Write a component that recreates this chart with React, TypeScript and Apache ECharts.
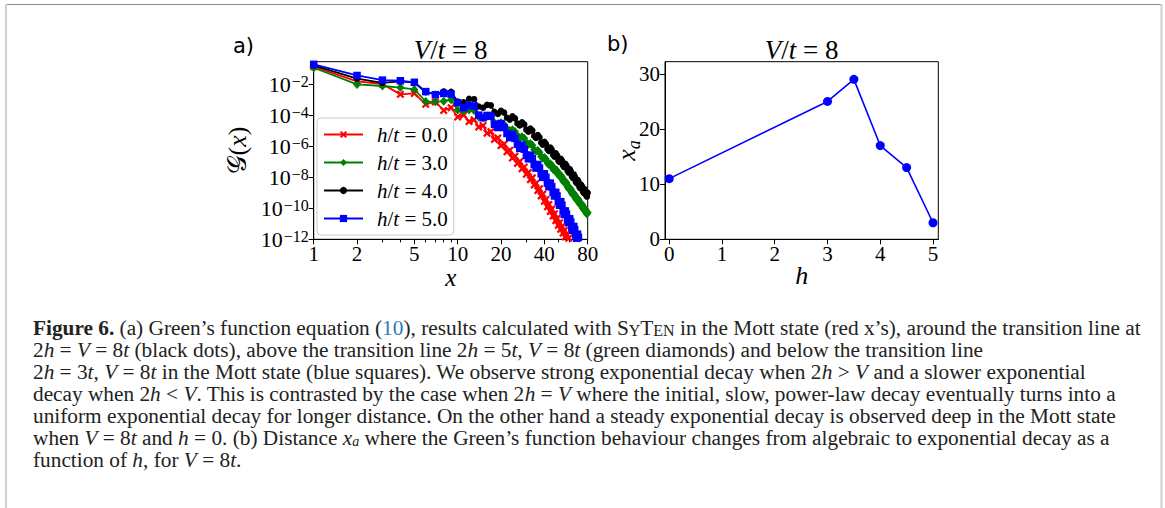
import React, { useEffect, useRef } from "react";
import * as echarts from "echarts";

const W = 1165;
const H = 508;

// ---------- data (panel a): log10 G(x) at x = 1, 2, 3, ... ----------
const legendNames = ["h/t = 0.0", "h/t = 3.0", "h/t = 4.0", "h/t = 5.0"];
const xTickLabels = [1, 2, 5, 10, 20, 40, 80];
const xMinorTicks = [3, 4, 6, 7, 8, 9, 30, 50, 60, 70];
const yTickExponents = [-12, -10, -8, -6, -4, -2];

const redLog10G = [
  -0.85, -1.8, -1.97, -2.64, -2.58, -3.28, -3.13, -3.68, -3.5, -4.1,
  -3.98, -4.4, -4.28, -4.75, -4.65, -5.15, -5.05, -5.55, -5.45, -5.95,
  -5.85, -6.35, -6.25, -6.75, -6.63, -7.1, -6.98, -7.45, -7.33, -7.8,
  -7.68, -8.15, -8.03, -8.5, -8.38, -8.85, -8.73, -9.2, -9.08, -9.55,
  -9.43, -9.9, -9.75, -10.2, -10.05, -10.5, -10.35, -10.8, -10.65, -11.1,
  -10.93, -11.35, -11.18, -11.6, -11.43, -11.85, -11.68, -12.1, -11.93, -12.35,
  -12.18, -12.6,
];
const greenLog10G = [
  -0.92, -2.0, -2.1, -2.2, -2.32, -3.1, -3.12, -3.08, -2.98, -3.65,
  -3.72, -3.65, -3.68, -4.1, -4.15, -4.05, -4.08, -4.48, -4.55, -4.47,
  -4.58, -4.86, -4.97, -4.92, -5.03, -5.31, -5.42, -5.37, -5.48, -5.76,
  -5.87, -5.82, -5.93, -6.21, -6.32, -6.27, -6.38, -6.66, -6.77, -6.72,
  -6.82, -7.08, -7.18, -7.12, -7.22, -7.47, -7.56, -7.49, -7.58, -7.83,
  -7.93, -7.87, -7.97, -8.23, -8.33, -8.27, -8.37, -8.63, -8.73, -8.67,
  -8.76, -9.01, -9.1, -9.03, -9.12, -9.36, -9.44, -9.36, -9.44, -9.68,
  -9.76, -9.68, -9.76, -10.0, -10.08, -9.99, -10.06, -10.29, -10.36, -10.27,
];
const blackLog10G = [
  -0.77, -1.62, -1.9, -1.8, -1.88, -2.5, -2.62, -2.45, -2.48, -3.1,
  -3.15, -2.92, -2.95, -3.42, -3.5, -3.32, -3.35, -3.77, -3.9, -3.7,
  -3.82, -4.15, -4.27, -4.06, -4.19, -4.52, -4.65, -4.45, -4.58, -4.92,
  -5.05, -4.85, -4.98, -5.33, -5.46, -5.27, -5.41, -5.75, -5.89, -5.7,
  -5.83, -6.16, -6.29, -6.08, -6.21, -6.54, -6.66, -6.45, -6.57, -6.9,
  -7.01, -6.8, -6.91, -7.24, -7.35, -7.13, -7.25, -7.57, -7.69, -7.47,
  -7.59, -7.91, -8.03, -7.81, -7.93, -8.26, -8.37, -8.16, -8.27, -8.6,
  -8.7, -8.48, -8.58, -8.9, -9.0, -8.76, -8.85, -9.15, -9.24, -9.0,
];
const blueLog10G = [
  -0.7, -1.42, -1.72, -1.76, -1.86, -2.46, -2.66, -2.58, -2.62, -3.18,
  -3.5, -3.34, -3.4, -3.98, -4.15, -4.0, -4.05, -4.57, -4.78, -4.52,
  -4.78, -5.17, -5.43, -5.22, -5.48, -5.87, -6.13, -5.92, -6.18, -6.57,
  -6.8, -6.57, -6.8, -7.17, -7.4, -7.17, -7.4, -7.77, -8.0, -7.77,
  -8.0, -8.37, -8.6, -8.37, -8.6, -8.97, -9.2, -8.97, -9.2, -9.57,
  -9.8, -9.57, -9.8, -10.17, -10.4, -10.17, -10.38, -10.72, -10.93, -10.67,
  -10.88, -11.22, -11.43, -11.17, -11.38, -11.72, -11.93, -11.67, -11.88, -12.22,
  -12.43, -12.17,
];

// ---------- data (panel b) ----------
const hValues = [0, 3, 3.5, 4, 4.5, 5];
const xaValues = [11, 25, 29, 17, 13, 3];
const hTicks = [0, 1, 2, 3, 4, 5];
const xaTicks = [0, 10, 20, 30];

const SERIF = '"Liberation Serif", "Times New Roman", serif';
const SANS = '"DejaVu Sans", sans-serif';
const seriesColors = ["#ff0000", "#008000", "#000000", "#0000ff"];
const xMarkPath =
  "path://M0,2 L2,0 L5,3 L8,0 L10,2 L7,5 L10,8 L8,10 L5,7 L2,10 L0,8 L3,5 Z";
const seriesSymbols = [xMarkPath, "diamond", "circle", "rect"];
const seriesSymbolSizes: any[] = [8, [8, 9], 6.5, 7.5];
const seriesLog = [redLog10G, greenLog10G, blackLog10G, blueLog10G];

// ---------- caption ----------
const captionLines: [string, string][][] = [
  [["b", "Figure 6."], ["r", " (a) Green’s function equation ("], ["c", "10"], ["r", "), results calculated with S"], ["sc", "Y"], ["r", "T"], ["sc", "EN"], ["r", " in the Mott state (red x’s), around the transition line at"]],
  [["r", "2"], ["i", "h"], ["r", " = "], ["i", "V"], ["r", " = 8"], ["i", "t"], ["r", " (black dots), above the transition line 2"], ["i", "h"], ["r", " = 5"], ["i", "t"], ["r", ", "], ["i", "V"], ["r", " = 8"], ["i", "t"], ["r", " (green diamonds) and below the transition line"]],
  [["r", "2"], ["i", "h"], ["r", " = 3"], ["i", "t"], ["r", ", "], ["i", "V"], ["r", " = 8"], ["i", "t"], ["r", " in the Mott state (blue squares). We observe strong exponential decay when 2"], ["i", "h"], ["r", " > "], ["i", "V"], ["r", " and a slower exponential"]],
  [["r", "decay when 2"], ["i", "h"], ["r", " < "], ["i", "V"], ["r", ". This is contrasted by the case when 2"], ["i", "h"], ["r", " = "], ["i", "V"], ["r", " where the initial, slow, power-law decay eventually turns into a"]],
  [["r", "uniform exponential decay for longer distance. On the other hand a steady exponential decay is observed deep in the Mott state"]],
  [["r", "when "], ["i", "V"], ["r", " = 8"], ["i", "t"], ["r", " and "], ["i", "h"], ["r", " = 0. (b) Distance "], ["i", "x"], ["sub", "a"], ["r", " where the Green’s function behaviour changes from algebraic to exponential decay as a"]],
  [["r", "function of "], ["i", "h"], ["r", ", for "], ["i", "V"], ["r", " = 8"], ["i", "t"], ["r", "."]],
];

const CAP = 21.3;
const capRich = {
  r: { fontFamily: SERIF, fontSize: CAP, fill: "#222", verticalAlign: "bottom", lineHeight: 22 },
  i: { fontFamily: SERIF, fontSize: CAP, fontStyle: "italic", fill: "#222", verticalAlign: "bottom", lineHeight: 22 },
  b: { fontFamily: SERIF, fontSize: CAP, fontWeight: "bold", fill: "#222", verticalAlign: "bottom", lineHeight: 22 },
  c: { fontFamily: SERIF, fontSize: CAP, fill: "#2b7bb9", verticalAlign: "bottom", lineHeight: 22 },
  sc: { fontFamily: SERIF, fontSize: 16, fill: "#222", verticalAlign: "bottom", lineHeight: 20 },
  sub: { fontFamily: SERIF, fontSize: 14, fontStyle: "italic", fill: "#222", verticalAlign: "bottom", lineHeight: 17 },
};

function rich(segs: [string, string][]) {
  return segs.map(([k, t]) => `{${k}|${t}}`).join("");
}

const mathRich = (size: number, lh: number, color = "#000") => ({
  r: { fontFamily: SERIF, fontSize: size, lineHeight: lh, fill: color, color },
  i: { fontFamily: SERIF, fontSize: size, lineHeight: lh, fontStyle: "italic", fill: color, color },
  g: { fontFamily: '"DejaVu Serif", "DejaVu Sans", serif', fontSize: size, lineHeight: lh, fill: color, color },
});

function buildOption(): any {
  const logMax = Math.log10(80);
  const tickFont = { fontFamily: SERIF, fontSize: 21, lineHeight: 18, color: "#000" };
  const series: any[] = seriesLog.map((arr, k) => ({
    name: legendNames[k],
    type: "line",
    xAxisIndex: 0,
    yAxisIndex: 0,
    data: arr.map((e, i) => [Math.log10(i + 1), e]),
    symbol: seriesSymbols[k],
    symbolSize: seriesSymbolSizes[k],
    showAllSymbol: true,
    itemStyle: { color: seriesColors[k] },
    lineStyle: { color: seriesColors[k], width: 1.8 },
    clip: true,
    z: 2 + k,
  }));
  series.push({
    type: "line",
    xAxisIndex: 2,
    yAxisIndex: 1,
    data: hValues.map((h, i) => [h, xaValues[i]]),
    symbol: "circle",
    symbolSize: 9,
    itemStyle: { color: "#0000ff" },
    lineStyle: { color: "#0000ff", width: 1.6 },
  });

  const capGraphics = captionLines.map((segs, i) => ({
    type: "text",
    x: 33,
    y: 327 + i * 22,
    style: { text: rich(segs), rich: capRich, align: "left", textAlign: "left", verticalAlign: "middle", textVerticalAlign: "middle" },
  }));

  const txt = (x: number, y: number, text: string, richDef: any, extra: any = {}) => ({
    type: "text",
    x,
    y,
    ...extra,
    style: { text, rich: richDef, align: "center", textAlign: "center", verticalAlign: "middle", textVerticalAlign: "middle" },
  });

  return {
    animation: false,
    backgroundColor: "#ffffff",
    grid: [
      { left: 313.7, top: 61.7, width: 274, height: 177.6, show: true, borderColor: "#000", borderWidth: 1, backgroundColor: "transparent", outerBoundsMode: "none" },
      { left: 665, top: 61.7, width: 273.3, height: 177.6, show: true, borderColor: "#000", borderWidth: 1, backgroundColor: "transparent", outerBoundsMode: "none" },
    ],
    xAxis: [
      {
        gridIndex: 0, type: "value", min: 0, max: logMax, position: "bottom",
        axisLine: { show: true, onZero: false, lineStyle: { color: "#000", width: 1 } },
        axisTick: { show: true, customValues: xTickLabels.map((v) => Math.log10(v)), length: 5, lineStyle: { color: "#000" } },
        axisLabel: { show: true, customValues: xTickLabels.map((v) => Math.log10(v)), formatter: (v: number) => String(Math.round(Math.pow(10, v))), margin: 6, ...tickFont },
        splitLine: { show: false },
      },
      {
        gridIndex: 0, type: "value", min: 0, max: logMax, position: "bottom",
        axisLine: { show: false, onZero: false },
        axisTick: { show: true, customValues: xMinorTicks.map((v) => Math.log10(v)), length: 3, lineStyle: { color: "#000" } },
        axisLabel: { show: false },
        splitLine: { show: false },
      },
      {
        gridIndex: 1, type: "value", min: -0.08, max: 5.1, position: "bottom",
        axisLine: { show: true, onZero: false, lineStyle: { color: "#000", width: 1 } },
        axisTick: { show: true, customValues: hTicks, length: 5, lineStyle: { color: "#000" } },
        axisLabel: { show: true, customValues: hTicks, margin: 6, ...tickFont },
        splitLine: { show: false },
      },
    ],
    yAxis: [
      {
        gridIndex: 0, type: "value", min: -12, max: -0.53, position: "left",
        axisLine: { show: true, onZero: false, lineStyle: { color: "#000", width: 1 } },
        axisTick: { show: true, customValues: yTickExponents, length: 5, lineStyle: { color: "#000" } },
        axisLabel: {
          show: true, customValues: yTickExponents, margin: 5,
          formatter: (v: number) => `{b|10}{s|−${Math.round(-v)}}`,
          rich: {
            b: { fontFamily: SERIF, fontSize: 22, lineHeight: 22, verticalAlign: "bottom", color: "#000" },
            s: { fontFamily: SERIF, fontSize: 16, lineHeight: 17, verticalAlign: "top", color: "#000", padding: [0, 0, 0, 1] },
          },
        },
        splitLine: { show: false },
      },
      {
        gridIndex: 1, type: "value", min: 0, max: 32.2, position: "left",
        axisLine: { show: true, onZero: false, lineStyle: { color: "#000", width: 1 } },
        axisTick: { show: true, customValues: xaTicks, length: 5, lineStyle: { color: "#000" } },
        axisLabel: { show: true, customValues: xaTicks, margin: 5, ...tickFont },
        splitLine: { show: false },
      },
    ],
    legend: {
      data: legendNames,
      orient: "vertical",
      left: 317,
      top: 118,
      itemWidth: 39,
      itemHeight: 9,
      itemGap: 7,
      padding: [6, 6, 6, 6],
      backgroundColor: "rgba(255,255,255,0.8)",
      borderColor: "#cccccc",
      borderWidth: 1,
      borderRadius: 4,
      selectedMode: false,
      formatter: (name: string) => `{gap| }{i|h}{r|/}{i|t}{r| = ${name.split("= ")[1]}}`,
      textStyle: {
        fontFamily: SERIF,
        fontSize: 21,
        color: "#000",
        rich: {
          gap: { width: 9, fontSize: 21, lineHeight: 21 },
          i: { fontFamily: SERIF, fontSize: 21, fontStyle: "italic", lineHeight: 21, color: "#000" },
          r: { fontFamily: SERIF, fontSize: 21, lineHeight: 21, color: "#000" },
        },
      },
    },
    series,
    graphic: {
      elements: [
        // frame
        { type: "line", shape: { x1: 5, y1: 4.5, x2: 1162, y2: 4.5 }, style: { stroke: "#8c8c8c", lineWidth: 1 } },
        { type: "line", shape: { x1: 6, y1: 4, x2: 6, y2: 508 }, style: { stroke: "#cfcfcf", lineWidth: 2 } },
        { type: "line", shape: { x1: 1161.5, y1: 4, x2: 1161.5, y2: 508 }, style: { stroke: "#cfcfcf", lineWidth: 2 } },
        // panel labels
        { type: "text", x: 233, y: 46, style: { text: "a)", fontFamily: SANS, fontSize: 21, fill: "#000", align: "left", textAlign: "left", verticalAlign: "middle", textVerticalAlign: "middle" } },
        { type: "text", x: 607, y: 44, style: { text: "b)", fontFamily: SANS, fontSize: 21, fill: "#000", align: "left", textAlign: "left", verticalAlign: "middle", textVerticalAlign: "middle" } },
        // titles
        txt(450.7, 49.5, "{i|V}{r|/}{i|t}{r| = 8}", mathRich(27, 24)),
        txt(801.7, 49.5, "{i|V}{r|/}{i|t}{r| = 8}", mathRich(27, 24)),
        // axis names
        txt(450.7, 277, "{i|x}", mathRich(25, 14)),
        txt(801.7, 275, "{i|h}", mathRich(26, 18)),
        txt(237, 150.5, "{g|𝒢}{r|(}{i|x}{r|)}", mathRich(26, 26), { rotation: Math.PI / 2 }),
        txt(626, 150.5, "{i|x}{s|a}", { ...mathRich(26, 26), s: { fontFamily: SERIF, fontSize: 18, fontStyle: "italic", fill: "#000", verticalAlign: "bottom", lineHeight: 34 } }, { rotation: Math.PI / 2 }),
        ...capGraphics,
      ],
    },
  };
}

export default function App() {
  const ref = useRef<HTMLDivElement>(null);
  useEffect(() => {
    if (!ref.current) return;
    const chart = echarts.init(ref.current, null, { renderer: "svg" });
    chart.setOption(buildOption());
    return () => chart.dispose();
  }, []);
  return (
    <div
      ref={ref}
      style={{ position: "absolute", left: 0, top: 0, width: W, height: H, background: "#fff" }}
    />
  );
}
